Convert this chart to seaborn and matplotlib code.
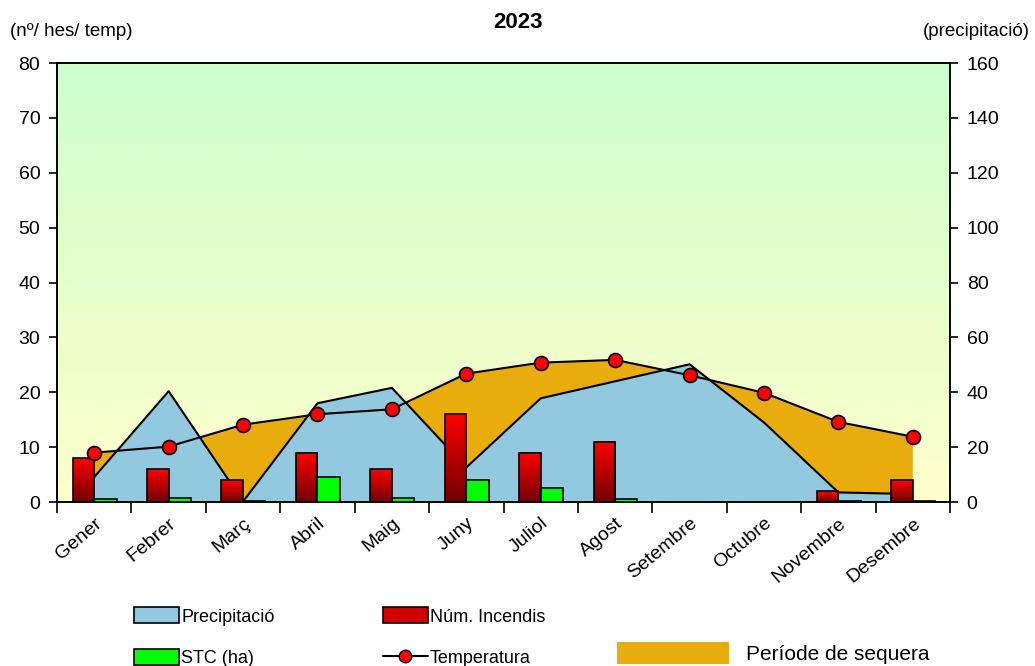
import numpy as np
import matplotlib.pyplot as plt
import matplotlib.patches as mpatches
import matplotlib.lines as mlines
from matplotlib.colors import LinearSegmentedColormap
import seaborn as sns

months = ['Gener', 'Febrer', 'Març', 'Abril', 'Maig', 'Juny', 'Juliol',
          'Agost', 'Setembre', 'Octubre', 'Novembre', 'Desembre']
temperatura = [9.0, 10.1, 14.1, 16.0, 16.9, 23.4, 25.4, 25.9, 23.1, 19.9, 14.6, 11.9]
precipitacio = [9.1, 40.4, 0.2, 36.0, 41.6, 12.6, 37.8, 44.0, 50.2, 29.0, 3.5, 2.9]
incendis = [8, 6, 4, 9, 6, 16, 9, 11, 0, 0, 2, 4]
stc_ha = [0.6, 0.8, 0.1, 4.5, 0.8, 4.0, 2.5, 0.6, 0.0, 0.0, 0.1, 0.2]

sns.set_theme(style='white')
plt.rcParams['font.family'] = ['Liberation Sans', 'DejaVu Sans']
plt.rcParams['text.color'] = 'black'
plt.rcParams['xtick.color'] = 'black'
plt.rcParams['ytick.color'] = 'black'

BLUE = '#92c9de'
ORANGE = '#e8ad0c'
GREEN = '#00ff00'

fig = plt.figure(figsize=(10.35, 6.66), dpi=100)
ax = fig.add_axes([0.0551, 0.2462, 0.8628, 0.6592])
ax2 = ax.twinx()
ax.set_zorder(ax2.get_zorder() + 1)
ax.patch.set_visible(False)

x = np.arange(len(months)) + 0.5

# background gradient (yellow bottom -> green top)
bg = LinearSegmentedColormap.from_list('bg', ['#ffffcc', '#ccffcc'])
grad = np.linspace(0, 1, 256).reshape(-1, 1)
ax2.imshow(grad, cmap=bg, origin='lower', extent=[0, 1, 0, 1],
           transform=ax2.transAxes, aspect='auto', zorder=0)

# precipitation area and drought period (P < 2T)
prec = np.array(precipitacio)
temp2 = 2 * np.array(temperatura)
ax2.fill_between(x, prec, 0, color=BLUE, lw=0, zorder=1)
ax2.fill_between(x, temp2, prec, where=temp2 > prec, interpolate=True,
                 color=ORANGE, lw=0, zorder=1)
ax2.plot(x, prec, color='black', lw=1.5, zorder=2)

# fires bars with red gradient
red = LinearSegmentedColormap.from_list('red', ['#700000', '#ff0000'])
bw = 0.29
for xi, h in zip(x, incendis):
    if h <= 0:
        continue
    ax.imshow(grad, cmap=red, origin='lower', extent=[xi - bw, xi, 0, h],
              aspect='auto', zorder=2.5)
ax.bar(x - bw / 2, incendis, width=bw, facecolor='none', edgecolor='black',
       lw=1.2, zorder=3)
ax.bar(x + 0.15, stc_ha, width=0.3, color=GREEN, edgecolor='black',
       lw=1.2, zorder=3)

# temperature
sns.lineplot(x=x, y=temperatura, ax=ax, color='black', lw=1.5, marker='o',
             markersize=10, markerfacecolor='red', markeredgecolor='black',
             markeredgewidth=1.2, zorder=5)

ax.set_xlim(0, 12)
ax.set_ylim(0, 80)
ax2.set_ylim(0, 160)
ax2.set_xlim(0, 12)
ax.set_yticks(np.arange(0, 81, 10))
ax2.set_yticks(np.arange(0, 161, 20))
ax.set_xticks(np.arange(0, 13))
ax.set_xticklabels([])
ax.set_xticks(x, minor=True)
ax.set_xticklabels(months, minor=True, rotation=40, ha='right',
                   rotation_mode='anchor', fontsize=14)
ax.tick_params(axis='x', which='major', length=8, width=1.2, color='black',
               direction='out', bottom=True)
ax.tick_params(axis='x', which='minor', length=0, pad=9)
ax.tick_params(axis='y', length=6, width=1.2, color='black', left=True,
               labelsize=14, pad=6)
ax2.tick_params(axis='y', length=6, width=1.2, color='black', right=True,
                labelsize=14, pad=6)
for a in (ax, ax2):
    for s in a.spines.values():
        s.set_color('black')
        s.set_linewidth(1.2)

fig.text(0.5, 1 - 22 / 666, '2023', ha='center', va='center',
         fontsize=16, fontweight='bold')
fig.text(10 / 1035, 1 - 32 / 666, '(nº/ hes/ temp)', ha='left', va='center',
         fontsize=13.5)
fig.text(1030 / 1035, 1 - 32 / 666, '(precipitació)', ha='right',
         va='center', fontsize=13.5)

h_prec = mpatches.Patch(facecolor=BLUE, edgecolor='black', lw=1.2,
                        label='Precipitació')
h_inc = mpatches.Patch(facecolor='#d00000', edgecolor='black', lw=1.2,
                       label='Núm. Incendis')
h_stc = mpatches.Patch(facecolor=GREEN, edgecolor='black', lw=1.2,
                       label='STC (ha)')
h_temp = mlines.Line2D([], [], color='black', lw=1.5, marker='o',
                       markersize=9, markerfacecolor='red',
                       markeredgecolor='black', label='Temperatura')
fig.legend(handles=[h_prec, h_stc, h_inc, h_temp], ncol=2, loc='upper left',
           bbox_to_anchor=(118 / 1035, 1 - 591 / 666), frameon=False,
           fontsize=13, handlelength=2.5, handleheight=1.0,
           handletextpad=0.1, columnspacing=6.0, labelspacing=1.3)
h_seq = mpatches.Patch(facecolor=ORANGE, edgecolor='none',
                       label='Període de sequera')
fig.legend(handles=[h_seq], loc='center left',
           bbox_to_anchor=(598 / 1035, 1 - 653 / 666), frameon=False,
           fontsize=15, handlelength=5.4, handleheight=1.2,
           handletextpad=0.8)

fig.savefig('out.png', dpi=100)
